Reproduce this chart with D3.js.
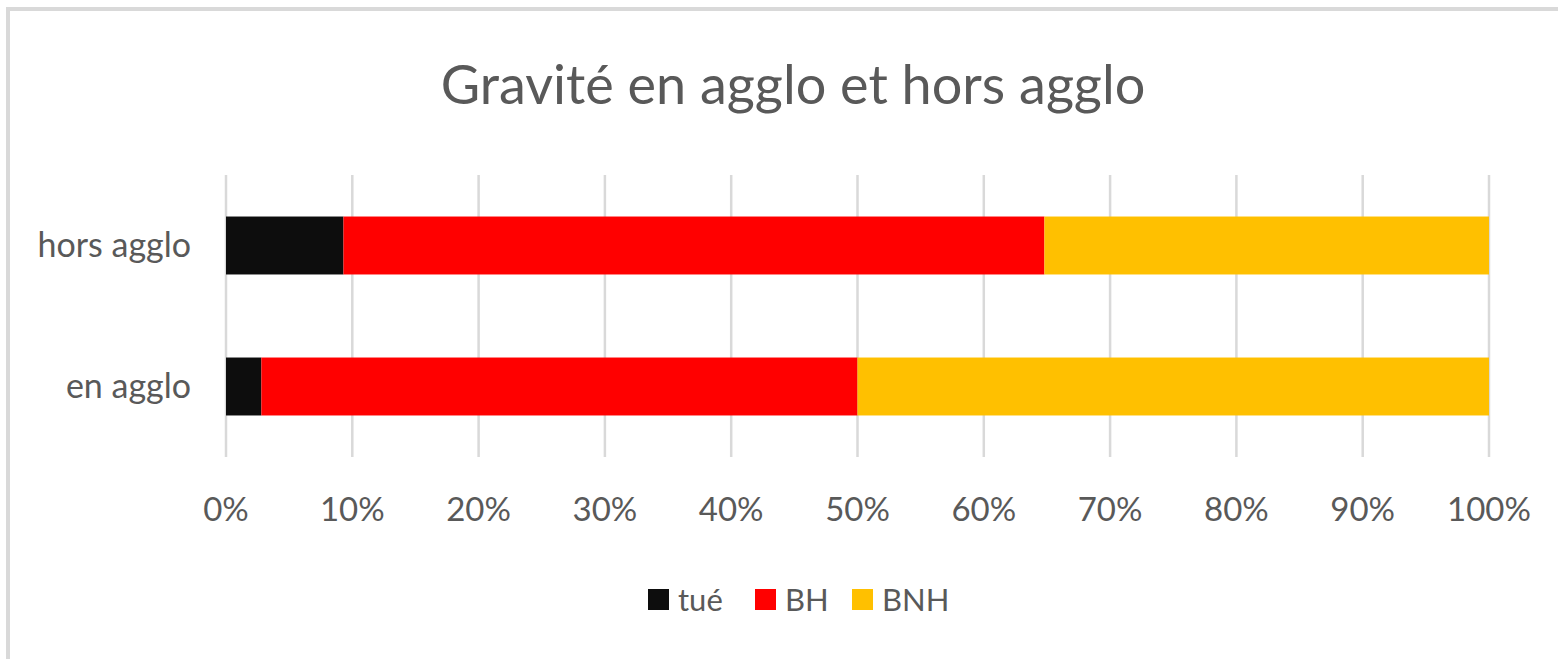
<!DOCTYPE html>
<html>
<head>
<meta charset="utf-8">
<script src="https://cdn.jsdelivr.net/npm/d3@7"></script>
<style>
  body { margin: 0; background: #fff; }
  svg { display: block; font-family: Lato, "Open Sans", sans-serif; }
</style>
</head>
<body>
<svg id="chart"></svg>
<script>
// data (shares in %)
const categories = ["hors agglo", "en agglo"];
const seriesNames = ["tué", "BH", "BNH"];
const tue = [9.3, 2.8];
const bh = [55.5, 47.2];
const bnh = [35.2, 50.0];
const ticks = [0, 10, 20, 30, 40, 50, 60, 70, 80, 90, 100];
const colors = ["#0d0d0d", "#ff0000", "#ffc000"];

const width = 1558, height = 659;
const svg = d3.select("#chart").attr("width", width).attr("height", height);

// frame of the chart (top + left edges visible)
svg.append("rect").attr("x", 6).attr("y", 7).attr("width", width).attr("height", 4).attr("fill", "#d9d9d9");
svg.append("rect").attr("x", 6).attr("y", 7).attr("width", 4).attr("height", height).attr("fill", "#d9d9d9");

// title
svg.append("text")
  .attr("x", 793).attr("y", 104)
  .attr("text-anchor", "middle")
  .attr("fill", "#595959")
  .attr("font-size", 54)
  .text("Gravité en agglo et hors agglo");

const x = d3.scaleLinear().domain([0, 100]).range([226, 1489]);
const y = d3.scaleBand().domain(categories).range([175, 457]).paddingInner(0.589).paddingOuter(0.2945);

// gridlines
svg.append("g")
  .selectAll("line")
  .data(ticks)
  .join("line")
  .attr("x1", (d) => x(d)).attr("x2", (d) => x(d))
  .attr("y1", 175).attr("y2", 457)
  .attr("stroke", "#d9d9d9")
  .attr("stroke-width", 2.5);

// stack the series
const rows = categories.map((c, i) => ({ cat: c, "tué": tue[i], BH: bh[i], BNH: bnh[i] }));
const stacked = d3.stack().keys(seriesNames)(rows);

svg.append("g")
  .selectAll("g")
  .data(stacked)
  .join("g")
  .attr("fill", (d, i) => colors[i])
  .selectAll("rect")
  .data((d) => d)
  .join("rect")
  .attr("x", (d) => x(d[0]))
  .attr("width", (d) => x(d[1]) - x(d[0]))
  .attr("y", (d) => y(d.data.cat))
  .attr("height", y.bandwidth());

// x tick labels
svg.append("g")
  .selectAll("text")
  .data(ticks)
  .join("text")
  .attr("x", (d) => x(d))
  .attr("y", 521)
  .attr("text-anchor", "middle")
  .attr("fill", "#595959")
  .attr("font-size", 33)
  .text((d) => d + "%");

// category labels
svg.append("g")
  .selectAll("text")
  .data(categories)
  .join("text")
  .attr("x", 191)
  .attr("y", (d) => y(d) + y.bandwidth() / 2 + 11)
  .attr("text-anchor", "end")
  .attr("fill", "#595959")
  .attr("font-size", 34)
  .text((d) => d);

// legend
const legendX = [648, 755, 852];
const legend = svg.append("g")
  .selectAll("g")
  .data(seriesNames)
  .join("g")
  .attr("transform", (d, i) => `translate(${legendX[i]},589)`);
legend.append("rect")
  .attr("width", 21).attr("height", 21)
  .attr("fill", (d, i) => colors[i]);
legend.append("text")
  .attr("x", 30).attr("y", 22)
  .attr("fill", "#595959")
  .attr("font-size", 31)
  .text((d) => d);
</script>
</body>
</html>
